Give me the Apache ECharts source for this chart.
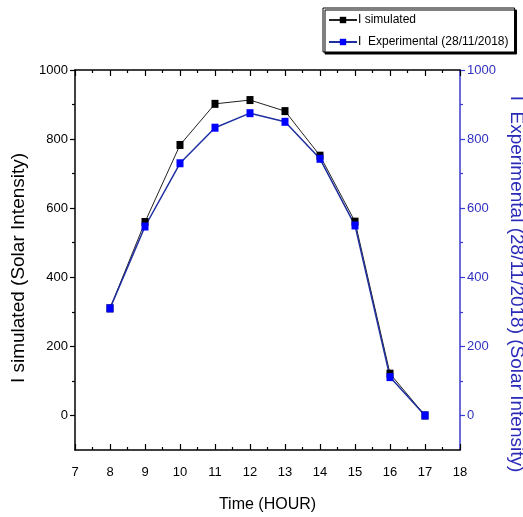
<!DOCTYPE html>
<html>
<head>
<meta charset="utf-8">
<script src="https://cdn.jsdelivr.net/npm/echarts@6/dist/echarts.min.js"></script>
<style>html,body{margin:0;padding:0;background:#fff}#c{width:523px;height:517px}</style>
</head>
<body>
<div id="c"></div>
<script>
var hours = [8, 9, 10, 11, 12, 13, 14, 15, 16, 17];
var simulated = [310, 560, 783, 902, 913, 881, 752, 561, 121, 0];
var experimental = [310, 547, 730, 833, 875, 850, 743, 550, 111, 0];
var yMajorTicks = [0, 200, 400, 600, 800, 1000];
var yMinorTicks = [100, 300, 500, 700, 900];
var seriesNames = ['I simulated', 'I  Experimental (28/11/2018)'];

var FONT = 'Liberation Sans, Arial, sans-serif';
var BLUE_AX = '#3a3ad0';

function pairs(xs, ys){ return xs.map(function(x,i){ return [x, ys[i]]; }); }
function raw(v){ return String(v); }

var chart = echarts.init(document.getElementById('c'), null, {renderer:'canvas'});
chart.setOption({
  animation: false,
  backgroundColor: '#fff',
  textStyle: {fontFamily: FONT},
  legend: {
    orient: 'vertical', left: 323, top: 8,
    padding: [6, 6, 4, 5], itemGap: 10,
    itemWidth: 28, itemHeight: 8,
    backgroundColor: '#fff', borderColor: '#000', borderWidth: 1,
    shadowColor: '#000', shadowOffsetX: 2, shadowOffsetY: 2, shadowBlur: 0,
    textStyle: {fontFamily: FONT, fontSize: 12, color: '#000', padding: [0,0,0,-4]},
    data: seriesNames
  },
  grid: {left: 75, right: 63, top: 70, bottom: 67, containLabel: false, outerBoundsMode: 'none'},
  xAxis: [{
    type: 'value', position: 'bottom', min: 7, max: 18, interval: 1,
    name: 'Time (HOUR)', nameLocation: 'middle', nameGap: 47,
    nameTextStyle: {fontFamily: FONT, fontSize: 16, color: '#000'},
    axisLine: {show: true, onZero: false, lineStyle: {color: '#000', width: 1.5}},
    axisTick: {show: true, inside: true, length: 6, lineStyle: {color: '#000', width: 1.2}},
    minorTick: {show: true, splitNumber: 2, length: 3, lineStyle: {color: '#000', width: 1.2}},
    axisLabel: {fontFamily: FONT, fontSize: 13, color: '#000', margin: 16, formatter: raw},
    splitLine: {show: false}
  }, {
    type: 'value', position: 'top', min: 7, max: 18, interval: 1,
    axisLine: {show: true, onZero: false, lineStyle: {color: '#000', width: 1.5}},
    axisTick: {show: true, inside: true, length: 6, lineStyle: {color: '#000', width: 1.2}},
    minorTick: {show: true, splitNumber: 2, length: 3, lineStyle: {color: '#000', width: 1.2}},
    axisLabel: {show: false},
    splitLine: {show: false}
  }],
  yAxis: [{
    type: 'value', position: 'left', min: -100, max: 1000,
    name: 'I simulated (Solar Intensity)', nameLocation: 'middle', nameGap: 42,
    nameTextStyle: {fontFamily: FONT, fontSize: 19, color: '#000', padding: [0, 16, 0, 0]},
    axisLine: {show: true, onZero: false, lineStyle: {color: '#000', width: 1.5}},
    axisTick: {show: true, inside: false, length: 5, customValues: yMajorTicks, lineStyle: {color: '#000', width: 1.2}},
    axisLabel: {fontFamily: FONT, fontSize: 13, color: '#000', margin: 7, customValues: yMajorTicks, formatter: raw},
    splitLine: {show: false}
  }, {
    type: 'value', position: 'right', min: -100, max: 1000,
    name: 'I  Experimental (28/11/2018) (Solar Intensity)', nameLocation: 'middle', nameGap: 39, nameRotate: -90,
    nameTextStyle: {fontFamily: FONT, fontSize: 19, color: '#2a2ab8', padding: [0, 0, 0, 48]},
    axisLine: {show: true, onZero: false, lineStyle: {color: BLUE_AX, width: 1.5}},
    axisTick: {show: true, inside: false, length: 5, customValues: yMajorTicks, lineStyle: {color: BLUE_AX, width: 1.2}},
    axisLabel: {fontFamily: FONT, fontSize: 13, color: '#3030c0', margin: 7, customValues: yMajorTicks, formatter: raw},
    splitLine: {show: false}
  }, {
    type: 'value', position: 'left', min: -100, max: 1000,
    axisLine: {show: false},
    axisTick: {show: true, inside: false, length: 3, customValues: yMinorTicks, lineStyle: {color: '#000', width: 1.2}},
    axisLabel: {show: false},
    splitLine: {show: false}
  }, {
    type: 'value', position: 'right', min: -100, max: 1000,
    axisLine: {show: false},
    axisTick: {show: true, inside: false, length: 3, customValues: yMinorTicks, lineStyle: {color: BLUE_AX, width: 1.2}},
    axisLabel: {show: false},
    splitLine: {show: false}
  }],
  series: [{
    name: seriesNames[0], type: 'line', xAxisIndex: 0, yAxisIndex: 0,
    data: pairs(hours, simulated),
    symbol: 'rect', symbolSize: [7, 8],
    lineStyle: {color: '#222', width: 1},
    itemStyle: {color: '#000'}
  }, {
    name: seriesNames[1], type: 'line', xAxisIndex: 0, yAxisIndex: 1,
    data: pairs(hours, experimental),
    symbol: 'rect', symbolSize: [7, 8],
    lineStyle: {color: '#1f2f9f', width: 1.5},
    itemStyle: {color: '#0000ff'}
  }]
});
</script>
</body>
</html>
